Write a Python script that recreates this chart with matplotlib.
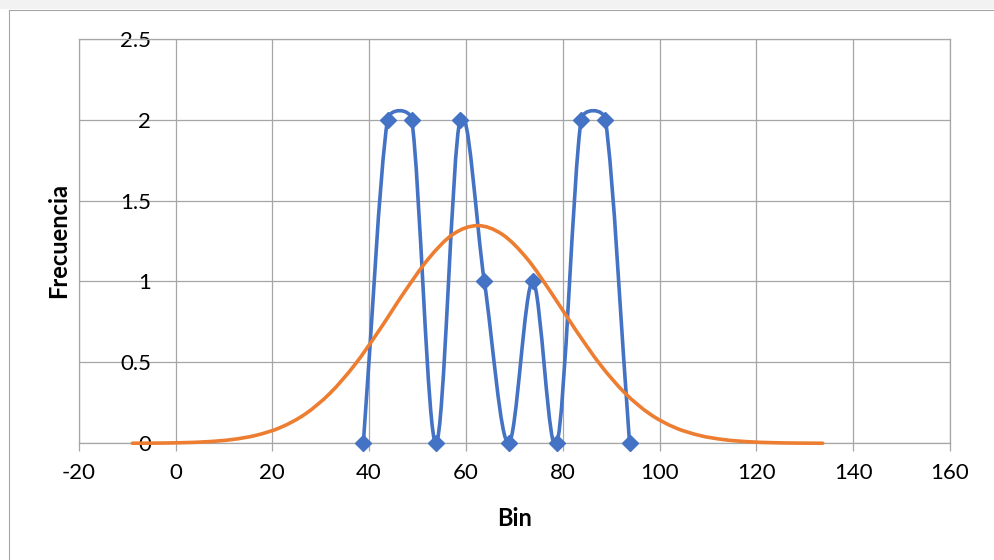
import numpy as np
import matplotlib
matplotlib.use("Agg")
import matplotlib.pyplot as plt
from matplotlib.path import Path
from matplotlib.patches import PathPatch, Rectangle
from matplotlib.lines import Line2D

# ---- data ----
bin_x = [38.8, 43.8, 48.8, 53.8, 58.8, 63.8, 68.8, 73.8, 78.8, 83.8, 88.8, 93.8]
freq_y = [0, 2, 2, 0, 2, 1, 0, 1, 0, 2, 2, 0]

norm_x = [-8.9, -3.8, 1.3, 6.4, 11.5, 16.6, 21.7, 26.8, 31.9, 37.0, 42.1, 47.2,
          52.3, 57.3, 62.4, 67.5, 72.6, 77.6, 82.7, 87.8, 92.9, 98.0, 103.1,
          108.2, 113.3, 118.4, 123.5, 128.6, 133.7]
norm_y = [0.0004, 0.0013, 0.0037, 0.0095, 0.0225, 0.049, 0.098, 0.181, 0.309,
          0.484, 0.699, 0.931, 1.142, 1.291, 1.345, 1.291, 1.142, 0.931, 0.699,
          0.484, 0.309, 0.181, 0.098, 0.049, 0.0225, 0.0095, 0.0037, 0.0013, 0.0004]

x_ticks = [-20, 0, 20, 40, 60, 80, 100, 120, 140, 160]
y_ticks = [0, 0.5, 1, 1.5, 2, 2.5]
y_tick_labels = ["0", "0.5", "1", "1.5", "2", "2.5"]
x_title = "Bin"
y_title = "Frecuencia"

BLUE = "#4472C4"
ORANGE = "#ED7D31"
GRID = "#a6a6a6"
FONT = ["Lato", "DejaVu Sans"]

W, H = 994, 560
fig = plt.figure(figsize=(W / 100, H / 100), dpi=100)
fig.patch.set_facecolor("white")

L, R, T, B = 78.7, 950.0, 38.7, 443.3
ax = fig.add_axes([L / W, 1 - B / H, (R - L) / W, (B - T) / H])
ax.set_xlim(-20, 160)
ax.set_ylim(0, 2.5)
ax.set_xticks(x_ticks)
ax.set_xticklabels([str(v) for v in x_ticks])
ax.set_yticks(y_ticks)
ax.set_yticklabels(y_tick_labels)
ax.grid(True, color=GRID, linewidth=0.9, zorder=0)
ax.set_axisbelow(True)
for s in ax.spines.values():
    s.set_color(GRID)
    s.set_linewidth(0.9)

ax.tick_params(axis="x", direction="out", length=6, width=0.9, color=GRID,
               pad=8.5, labelsize=16, labelcolor="black")
ax.tick_params(axis="y", length=0, pad=-(151 - L) * 0.72, labelsize=16,
               labelcolor="black")
for lab in ax.get_xticklabels() + ax.get_yticklabels():
    lab.set_family(FONT)

ax.set_xlabel(x_title, fontsize=17, fontweight="bold", family=FONT)
ax.set_ylabel(y_title, fontsize=17, fontweight="bold", family=FONT)
ax.xaxis.set_label_coords(0.5, (B - 519) / (B - T))
ax.xaxis.label.set_va("center")
ax.yaxis.set_label_coords((59 - L) / (R - L), 0.5)
ax.yaxis.label.set_va("center")
ax.yaxis.label.set_ha("center")


def excel_smooth(ax, xs, ys):
    pts = ax.transData.transform(np.column_stack([xs, ys]))
    n = len(pts)
    verts = [pts[0]]
    codes = [Path.MOVETO]
    for i in range(n - 1):
        p1, p2 = pts[i], pts[i + 1]
        p0 = pts[i - 1] if i > 0 else p1
        p3 = pts[i + 2] if i + 2 < n else p2
        d12 = np.hypot(*(p2 - p1))
        f = 1 / 6 if i > 0 else 1 / 3
        g = 1 / 6 if i + 2 < n else 1 / 3
        v1 = (p2 - p0) * f
        v2 = (p3 - p1) * g
        cap = d12 / 2
        n1, n2 = np.hypot(*v1), np.hypot(*v2)
        if n1 > cap:
            v1 = v1 * cap / n1
        if n2 > cap:
            v2 = v2 * cap / n2
        verts += [p1 + v1, p2 - v2, p2]
        codes += [Path.CURVE4] * 3
    vd = ax.transData.inverted().transform(np.array(verts))
    return Path(vd, codes)


blue_path = excel_smooth(ax, bin_x, freq_y)
ax.add_patch(PathPatch(blue_path, fill=False, edgecolor=BLUE, linewidth=2.6,
                       capstyle="round", joinstyle="round", zorder=3))
ax.plot(bin_x, freq_y, linestyle="none", marker="D", markersize=7.8,
        color=BLUE, zorder=4, clip_on=False)

orange_path = excel_smooth(ax, norm_x, norm_y)
ax.add_patch(PathPatch(orange_path, fill=False, edgecolor=ORANGE, linewidth=2.6,
                       capstyle="round", joinstyle="round", zorder=5,
                       clip_on=False))

# chart-area frame and top strip
fig.patches.append(Rectangle((0, 1 - 9 / H), 1, 9 / H, transform=fig.transFigure,
                             facecolor="#f2f2f2", edgecolor="none", zorder=0))
fig.lines.append(Line2D([8.5 / W, 1], [1 - 9.5 / H, 1 - 9.5 / H],
                        transform=fig.transFigure, color=GRID, linewidth=0.8))
fig.lines.append(Line2D([8.5 / W, 8.5 / W], [0, 1 - 9.5 / H],
                        transform=fig.transFigure, color=GRID, linewidth=0.8))

fig.savefig("out.png", dpi=100)
